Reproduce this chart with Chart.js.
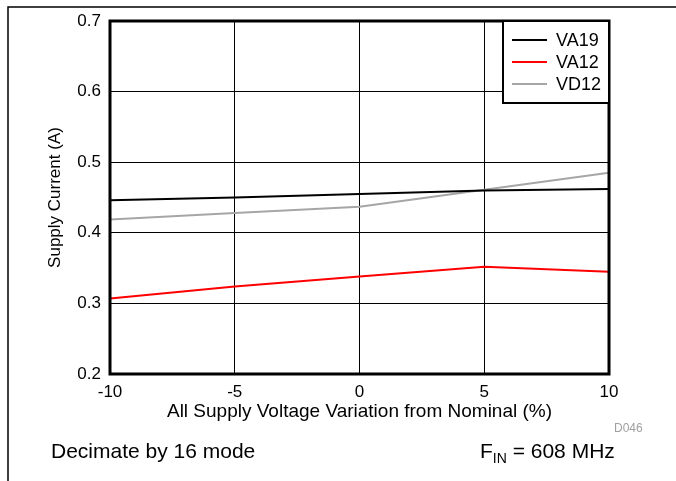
<!DOCTYPE html>
<html>
<head>
<meta charset="utf-8">
<script src="https://cdn.jsdelivr.net/npm/chart.js@4/dist/chart.umd.min.js"></script>
<style>
  html, body { margin: 0; padding: 0; background: #fff; }
  #wrap { width: 676px; height: 481px; position: relative; }
</style>
</head>
<body>
<div id="wrap"><canvas id="c"></canvas></div>
<script>
// valeurs
const variation = [-10, -5, 0, 5, 10];
const va19 = [0.446, 0.450, 0.455, 0.460, 0.462];
const va12 = [0.307, 0.324, 0.338, 0.352, 0.345];
const vd12 = [0.419, 0.428, 0.437, 0.461, 0.485];
const xTicks = [-10, -5, 0, 5, 10];
const yTicks = [0.2, 0.3, 0.4, 0.5, 0.6, 0.7];

const police = "'Liberation Sans', Arial, sans-serif";

function points(vals) {
    return variation.map((x, i) => ({ x: x, y: vals[i] }));
}

// cadre du graphe, legende et textes libres
const decor = {
    id: "decor",
    afterDatasetsDraw(chart) {
        const ctx = chart.ctx;
        const a = chart.chartArea;
        ctx.save();
        ctx.strokeStyle = "#000";
        ctx.lineWidth = 3;
        ctx.strokeRect(a.left, a.top, a.right - a.left, a.bottom - a.top);

        // legende
        const lx = 503, ly = a.top, lw = a.right - lx, lh = 82;
        ctx.fillStyle = "#fff";
        ctx.fillRect(lx, ly, lw, lh);
        ctx.lineWidth = 2;
        ctx.strokeRect(lx, ly, lw, lh);
        ctx.font = "18px " + police;
        ctx.textBaseline = "middle";
        chart.data.datasets.forEach((ds, i) => {
            const y = ly + 19 + i * 22;
            ctx.strokeStyle = ds.borderColor;
            ctx.lineWidth = 2;
            ctx.beginPath();
            ctx.moveTo(lx + 9, y);
            ctx.lineTo(lx + 44, y);
            ctx.stroke();
            ctx.fillStyle = "#000";
            ctx.fillText(ds.label, lx + 53, y + 1);
        });
        ctx.restore();
    },
    afterDraw(chart) {
        const ctx = chart.ctx;
        ctx.save();
        // cadre de la page
        ctx.strokeStyle = "#000";
        ctx.lineWidth = 1.5;
        ctx.beginPath();
        ctx.moveTo(8, 481);
        ctx.lineTo(8, 7);
        ctx.lineTo(676, 7);
        ctx.stroke();

        ctx.fillStyle = "#a0a0a0";
        ctx.font = "12px " + police;
        ctx.textBaseline = "alphabetic";
        ctx.fillText("D046", 614, 432);

        ctx.fillStyle = "#000";
        ctx.font = "21px " + police;
        ctx.fillText("Decimate by 16 mode", 51, 458);

        ctx.fillText("F", 480, 458);
        let x = 480 + ctx.measureText("F").width;
        ctx.font = "14px " + police;
        ctx.fillText("IN", x, 463);
        x += ctx.measureText("IN").width;
        ctx.font = "21px " + police;
        ctx.fillText(" = 608 MHz", x, 458);
        ctx.restore();
    }
};

new Chart(document.getElementById("c"), {
    type: "line",
    data: {
        datasets: [
            { label: "VA19", data: points(va19), borderColor: "#000000", borderWidth: 2 },
            { label: "VA12", data: points(va12), borderColor: "#ff0000", borderWidth: 2 },
            { label: "VD12", data: points(vd12), borderColor: "#a6a6a6", borderWidth: 2 },
        ],
    },
    options: {
        responsive: true,
        maintainAspectRatio: false,
        animation: false,
        devicePixelRatio: 1,
        layout: { padding: { top: 21, right: 67, left: 0, bottom: 57 } },
        elements: { point: { radius: 0 }, line: { tension: 0 } },
        plugins: { legend: { display: false }, tooltip: { enabled: false } },
        scales: {
            x: {
                type: "linear",
                min: -10,
                max: 10,
                afterBuildTicks(s) { s.ticks = xTicks.map(v => ({ value: v })); },
                afterFit(s) { s.height = 50; },
                grid: { color: "#000", lineWidth: 1, drawTicks: false },
                border: { display: false },
                ticks: { color: "#000", padding: 8, maxRotation: 0, font: { size: 17, family: police } },
                title: {
                    display: true,
                    text: "All Supply Voltage Variation from Nominal (%)",
                    color: "#000",
                    padding: 1,
                    font: { size: 19, family: police },
                },
            },
            y: {
                type: "linear",
                min: 0.2,
                max: 0.7,
                afterBuildTicks(s) { s.ticks = yTicks.map(v => ({ value: v })); },
                afterFit(s) { s.width = 110; },
                grid: { color: "#000", lineWidth: 1, drawTicks: false },
                border: { display: false },
                ticks: {
                    color: "#000",
                    padding: 9,
                    font: { size: 17, family: police },
                    callback: v => v.toFixed(1),
                },
                title: {
                    display: true,
                    text: "Supply Current (A)",
                    color: "#000",
                    padding: 45,
                    font: { size: 17, family: police },
                },
            },
        },
    },
    plugins: [decor],
});
</script>
</body>
</html>
